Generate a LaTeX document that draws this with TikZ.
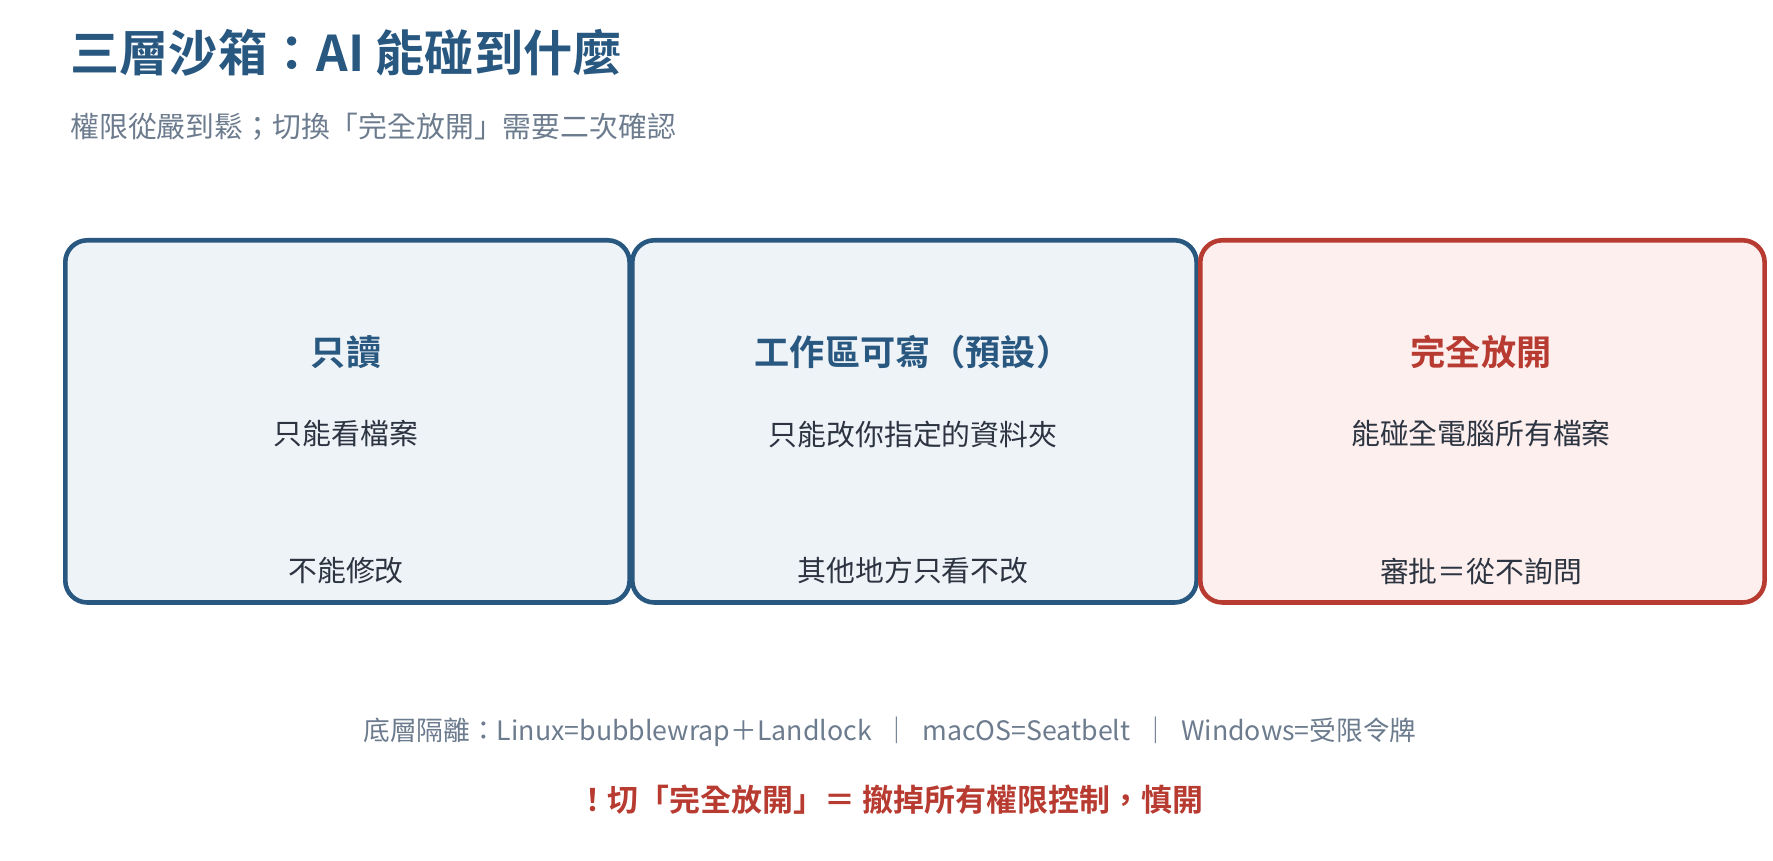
\documentclass[tikz,border=0pt]{standalone}
\usepackage{fontspec}
\setmainfont{Noto Sans CJK TC}[BoldFont={Noto Sans CJK TC Bold}]
\definecolor{navy}{HTML}{285780}
\definecolor{navyfill}{HTML}{EEF3F8}
\definecolor{brick}{HTML}{B83B31}
\definecolor{brickfill}{HTML}{FDEFEE}
\definecolor{ink}{HTML}{2B3440}
\definecolor{slate}{HTML}{6C7C8E}
\tikzset{
  tier/.style={draw=navy, fill=navyfill, line width=1.3pt, rounded corners=0.22cm,
    minimum width=5.64cm, minimum height=3.62cm, anchor=north west},
  danger/.style={tier, draw=brick, fill=brickfill},
  head/.style={font=\fontsize{10}{12}\selectfont\bfseries, text=navy},
  body/.style={font=\fontsize{8.2}{10}\selectfont, text=ink}
}
\begin{document}
\begin{tikzpicture}[x=0.01cm, y=-0.01cm]
    \useasboundingbox (0,0) rectangle (1773,861);
    \node[anchor=west, text=navy, font=\fontsize{14}{16}\selectfont\bfseries] (title) at (58,53) {三層沙箱：AI 能碰到什麼};
    \node[anchor=west, text=slate, font=\fontsize{8.2}{10}\selectfont] (sub) at (58,127) {權限從嚴到鬆；切換「完全放開」需要二次確認};

    \node[tier] (ro) at (63,238) {};
    \node[tier] (ws) at (630,238) {};
    \node[danger] (fa) at (1198,238) {};

    \node[head] (rohead) at (346,352) {只讀};
    \node[body] (rotop) at (346,434) {只能看檔案};
    \node[body] (robot) at (346,571) {不能修改};

    \node[head] (wshead) at (913,352) {工作區可寫（預設）};
    \node[body] (wstop) at (913,434) {只能改你指定的資料夾};
    \node[body] (wsbot) at (913,571) {其他地方只看不改};

    \node[head, text=brick] (fahead) at (1481,352) {完全放開};
    \node[body] (fatop) at (1481,434) {能碰全電腦所有檔案};
    \node[body] (fabot) at (1481,571) {審批＝從不詢問};

    \node[text=slate, font=\fontsize{7.6}{9}\selectfont] (os) at (890,732) {底層隔離：Linux=bubblewrap＋Landlock \ ｜ \ macOS=Seatbelt \ ｜ \ Windows=受限令牌};
    \node[text=brick, font=\fontsize{8.8}{10}\selectfont\bfseries] (warn) at (890,800) {！切「完全放開」＝ 撤掉所有權限控制，慎開};
\end{tikzpicture}
\end{document}
